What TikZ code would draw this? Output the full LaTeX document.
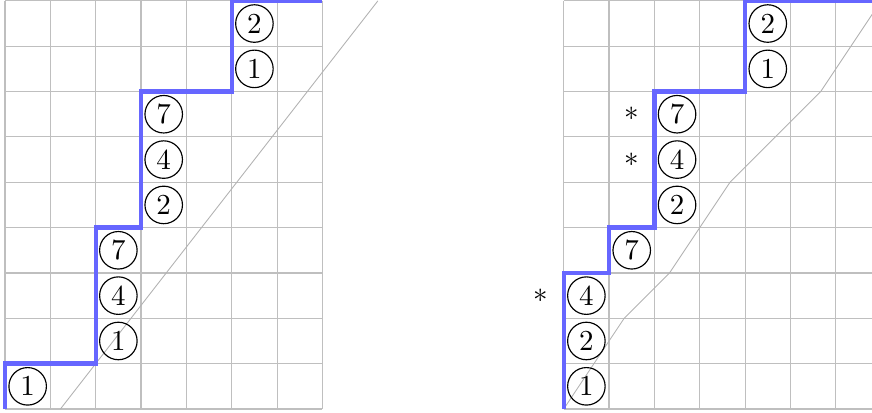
\documentclass[tikz,border=0pt]{standalone}
\begin{document}
\begin{tikzpicture}[x=0.55cm,y=0.55cm,
  gridline/.style={gray!50, line width=0.4pt},
  stair/.style={blue!60, line width=1.5pt, line join=miter},
  guide/.style={gray!60, line width=0.3pt},
  num/.style={circle, draw, line width=0.4pt, minimum size=0.455cm, inner sep=0pt},
  star/.style={inner sep=0pt}]
\useasboundingbox (-0.11,-0.066) rectangle (19.118,9.019);
\clip (-0.11,-0.066) rectangle (19.118,9.019);
% ---------- left grid ----------
\begin{scope}
\foreach \i in {0,...,7} \draw[gridline] (\i,0) -- (\i,9);
\foreach \j in {0,...,9} \draw[gridline] (0,\j) -- (7,\j);
\coordinate (la) at (11/9,0);
\coordinate (lb) at (74/9,9);
\draw[guide] (la) -- (lb);
\draw[stair] (0,0) |- (2,1) |- (3,4) |- (5,7) |- (7,9);
\node[num] (l1) at (0.5,0.5) {1};
\node[num] (l2) at (2.5,1.5) {1};
\node[num] (l3) at (2.5,2.5) {4};
\node[num] (l4) at (2.5,3.5) {7};
\node[num] (l5) at (3.5,4.5) {2};
\node[num] (l6) at (3.5,5.5) {4};
\node[num] (l7) at (3.5,6.5) {7};
\node[num] (l8) at (5.5,7.5) {1};
\node[num] (l9) at (5.5,8.5) {2};
\end{scope}
% ---------- right grid ----------
\begin{scope}[shift={(12.32,0)}]
\foreach \i in {0,...,7} \draw[gridline] (\i,0) -- (\i,9);
\foreach \j in {0,...,9} \draw[gridline] (0,\j) -- (7,\j);
\draw[guide] (0,0) -- (4/3,2) -- (7/3,3) -- (11/3,5) -- (17/3,7) -- (7,9);
\draw[stair] (0,0) |- (1,3) |- (2,4) |- (4,7) |- (7,9);
\node[num] (r1) at (0.5,0.5) {1};
\node[num] (r2) at (0.5,1.5) {2};
\node[num] (r3) at (0.5,2.5) {4};
\node[num] (r4) at (1.5,3.5) {7};
\node[num] (r5) at (2.5,4.5) {2};
\node[num] (r6) at (2.5,5.5) {4};
\node[num] (r7) at (2.5,6.5) {7};
\node[num] (r8) at (4.5,7.5) {1};
\node[num] (r9) at (4.5,8.5) {2};
\node[star] (s1) at (-0.5,2.5) {$*$};
\node[star] (s2) at (1.5,5.5) {$*$};
\node[star] (s3) at (1.5,6.5) {$*$};
\end{scope}
\end{tikzpicture}
\end{document}
